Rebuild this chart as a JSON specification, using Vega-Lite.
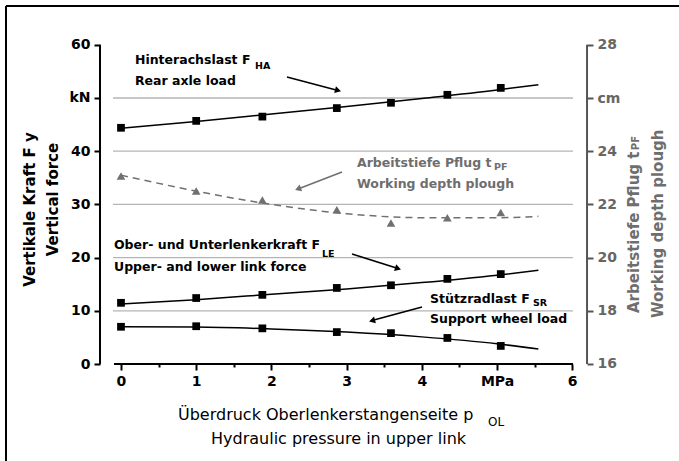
{
  "$schema": "https://vega.github.io/schema/vega-lite/v6.json",
  "width": 673,
  "height": 455,
  "padding": {"left": 6, "top": 6, "right": 0, "bottom": 0},
  "autosize": "none",
  "background": "white",
  "config": {"view": {"stroke": null}, "font": "DejaVu Sans"},
  "datasets": {
    "pts": [
      {"p": 0, "s": "rear", "v": 44.4}, {"p": 1, "s": "rear", "v": 45.7}, {"p": 1.88, "s": "rear", "v": 46.5}, {"p": 2.87, "s": "rear", "v": 48.1}, {"p": 3.59, "s": "rear", "v": 49.1}, {"p": 4.34, "s": "rear", "v": 50.6}, {"p": 5.05, "s": "rear", "v": 51.9},
      {"p": 0, "s": "link", "v": 11.5}, {"p": 1, "s": "link", "v": 12.4}, {"p": 1.88, "s": "link", "v": 13.0}, {"p": 2.87, "s": "link", "v": 14.3}, {"p": 3.59, "s": "link", "v": 14.8}, {"p": 4.34, "s": "link", "v": 16.0}, {"p": 5.05, "s": "link", "v": 16.9},
      {"p": 0, "s": "support", "v": 7.0}, {"p": 1, "s": "support", "v": 7.1}, {"p": 1.88, "s": "support", "v": 6.7}, {"p": 2.87, "s": "support", "v": 6.0}, {"p": 3.59, "s": "support", "v": 5.8}, {"p": 4.34, "s": "support", "v": 4.9}, {"p": 5.05, "s": "support", "v": 3.4},
      {"p": 0, "s": "depth", "v": 23.07}, {"p": 1, "s": "depth", "v": 22.5}, {"p": 1.88, "s": "depth", "v": 22.17}, {"p": 2.87, "s": "depth", "v": 21.8}, {"p": 3.59, "s": "depth", "v": 21.3}, {"p": 4.34, "s": "depth", "v": 21.5}, {"p": 5.05, "s": "depth", "v": 21.7}
    ],
    "fits": [
      {"p": 0, "s": "rear", "v": 44.3}, {"p": 1, "s": "rear", "v": 45.6}, {"p": 2, "s": "rear", "v": 47.0}, {"p": 3, "s": "rear", "v": 48.4}, {"p": 4, "s": "rear", "v": 49.9}, {"p": 5, "s": "rear", "v": 51.5}, {"p": 5.55, "s": "rear", "v": 52.5},
      {"p": 0, "s": "link", "v": 11.3}, {"p": 1, "s": "link", "v": 12.1}, {"p": 2, "s": "link", "v": 13.1}, {"p": 3, "s": "link", "v": 14.1}, {"p": 4, "s": "link", "v": 15.3}, {"p": 5, "s": "link", "v": 16.7}, {"p": 5.55, "s": "link", "v": 17.6},
      {"p": 0, "s": "support", "v": 7.0}, {"p": 1, "s": "support", "v": 6.95}, {"p": 2, "s": "support", "v": 6.6}, {"p": 3, "s": "support", "v": 6.0}, {"p": 4, "s": "support", "v": 5.1}, {"p": 5, "s": "support", "v": 3.8}, {"p": 5.55, "s": "support", "v": 2.8},
      {"p": 0, "s": "depth", "v": 23.1}, {"p": 1, "s": "depth", "v": 22.5}, {"p": 2, "s": "depth", "v": 22.0}, {"p": 3, "s": "depth", "v": 21.65}, {"p": 4, "s": "depth", "v": 21.5}, {"p": 5, "s": "depth", "v": 21.5}, {"p": 5.55, "s": "depth", "v": 21.55}
    ],
    "notes": [
      {"x": 0.186, "y": 57.14, "text": "Hinterachslast F", "about": "rear", "role": "ann"},
      {"x": 1.782, "y": 56.02, "text": "HA", "about": "rear", "role": "annsub"},
      {"x": 0.186, "y": 53.1, "text": "Rear axle load", "about": "rear", "role": "ann"},
      {"x": 3.138, "y": 37.73, "text": "Arbeitstiefe Pflug t", "about": "depth", "role": "ann"},
      {"x": 4.96, "y": 37.09, "text": "PF", "about": "depth", "role": "annsub"},
      {"x": 3.138, "y": 33.83, "text": "Working depth plough", "about": "depth", "role": "ann"},
      {"x": -0.093, "y": 22.37, "text": "Ober- und Unterlenkerkraft F", "about": "link", "role": "ann"},
      {"x": 2.673, "y": 20.73, "text": "LE", "about": "link", "role": "annsub"},
      {"x": -0.093, "y": 18.29, "text": "Upper- and lower link force", "about": "link", "role": "ann"},
      {"x": 4.109, "y": 12.27, "text": "Stützradlast F", "about": "support", "role": "ann"},
      {"x": 5.479, "y": 11.41, "text": "SR", "about": "support", "role": "annsub"},
      {"x": 4.109, "y": 8.42, "text": "Support wheel load", "about": "support", "role": "ann"},
      {"x": 0.758, "y": -9.59, "text": "Überdruck Oberlenkerstangenseite p", "about": "x", "role": "xt"},
      {"x": 4.88, "y": -10.9, "text": "OL", "about": "x", "role": "xtsub"},
      {"x": 1.197, "y": -14.1, "text": "Hydraulic pressure in upper link", "about": "x", "role": "xt"},
      {"x": -1.21, "y": 29.04, "text": "Vertikale Kraft F y", "about": "y", "role": "lt"},
      {"x": -0.904, "y": 30.92, "text": "Vertical force", "about": "y", "role": "lt"},
      {"x": 6.822, "y": 9.59, "text": "Arbeitstiefe Pflug t", "about": "depth", "role": "rt"},
      {"x": 6.848, "y": 40.2, "text": "PF", "about": "depth", "role": "rtsub"},
      {"x": 7.141, "y": 8.65, "text": "Working depth plough", "about": "depth", "role": "rt"}
    ],
    "arrows": [
      {"about": "rear", "x": 2.207, "y": 53.95, "x2": 2.886, "y2": 51.41},
      {"about": "depth", "x": 2.939, "y": 36.09, "x2": 2.354, "y2": 32.89},
      {"about": "link", "x": 3.072, "y": 20.68, "x2": 3.684, "y2": 17.95},
      {"about": "support", "x": 4.003, "y": 10.71, "x2": 3.338, "y2": 8.16}
    ]
  },
  "layer": [
    {
      "layer": [
        {
          "data": {"values": [{"g": 10}, {"g": 20}, {"g": 30}, {"g": 40}, {"g": 50}]},
          "mark": {"type": "rule", "color": "#b4b4b4", "strokeWidth": 1.3},
          "encoding": {
            "x": {"datum": -0.106, "type": "quantitative", "scale": {"domain": [-1.529, 7.42], "nice": false, "zero": false}},
            "x2": {"datum": 6.011},
            "y": {"field": "g", "type": "quantitative", "scale": {"domain": [-18.23, 67.29], "nice": false, "zero": false}}
          }
        },
        {
          "data": {"values": [{}]},
          "mark": {"type": "rule", "color": "black", "strokeWidth": 2},
          "encoding": {
            "x": {"datum": -0.279, "type": "quantitative"},
            "y": {"datum": 0, "type": "quantitative"},
            "y2": {"datum": 60}
          }
        },
        {
          "data": {"values": [{}]},
          "mark": {"type": "rule", "color": "#555555", "strokeWidth": 2},
          "encoding": {
            "x": {"datum": 6.197, "type": "quantitative"},
            "y": {"datum": 0, "type": "quantitative"},
            "y2": {"datum": 60}
          }
        },
        {
          "data": {"values": [{}]},
          "mark": {"type": "rule", "color": "black", "strokeWidth": 2.2},
          "encoding": {
            "x": {"datum": -0.093, "type": "quantitative"},
            "x2": {"datum": 6.011},
            "y": {"datum": 0, "type": "quantitative"}
          }
        },
        {
          "data": {"values": [{}]},
          "mark": {"type": "rule", "color": "black", "strokeWidth": 2},
          "encoding": {
            "x": {"datum": -1.529, "type": "quantitative"},
            "y": {"datum": -18.23, "type": "quantitative"},
            "y2": {"datum": 67.29}
          }
        },
        {
          "data": {"values": [{}]},
          "mark": {"type": "rule", "color": "black", "strokeWidth": 2},
          "encoding": {
            "x": {"datum": -1.529, "type": "quantitative"},
            "x2": {"datum": 7.42},
            "y": {"datum": 67.29, "type": "quantitative"}
          }
        },
        {
          "data": {"name": "fits"},
          "transform": [{"filter": "datum.s !== 'depth'"}],
          "mark": {"type": "line", "color": "black", "strokeWidth": 1.5, "interpolate": "monotone"},
          "encoding": {
            "x": {"field": "p", "type": "quantitative"},
            "y": {"field": "v", "type": "quantitative"},
            "detail": {"field": "s"}
          }
        },
        {
          "data": {"name": "pts"},
          "transform": [{"filter": "datum.s !== 'depth'"}],
          "mark": {"type": "point", "shape": "square", "filled": true, "color": "black", "size": 60, "opacity": 1},
          "encoding": {
            "x": {
              "field": "p", "type": "quantitative",
              "axis": {
                "orient": "bottom", "offset": -97, "title": null, "domain": false, "grid": false,
                "values": [0, 0.5, 1, 1.5, 2, 2.5, 3, 3.5, 4, 4.5, 5, 5.5, 6],
                "tickColor": "black", "tickWidth": 2, "tickSize": 6,
                "tickDash": {"condition": {"test": "datum.value % 1 !== 0", "value": [3, 20]}, "value": []},
                "labelExpr": "datum.value === 5 ? 'MPa' : (datum.value % 1 === 0 ? format(datum.value, 'd') : '')",
                "labelFont": "DejaVu Sans", "labelFontWeight": "bold", "labelFontSize": 14, "labelColor": "black",
                "labelPadding": 4, "labelFlush": false, "labelOverlap": false
              }
            },
            "y": {
              "field": "v", "type": "quantitative",
              "axis": {
                "orient": "left", "offset": -94, "title": null, "domain": false, "grid": false,
                "values": [0, 5, 10, 15, 20, 25, 30, 35, 40, 45, 50, 55, 60],
                "tickColor": "black", "tickWidth": 2, "tickSize": 6,
                "tickDash": {"condition": {"test": "datum.value % 10 !== 0", "value": [3, 20]}, "value": []},
                "labelExpr": "datum.value === 50 ? 'kN' : (datum.value % 10 === 0 ? format(datum.value, 'd') : '')",
                "labelFont": "DejaVu Sans", "labelFontWeight": "bold", "labelFontSize": 14, "labelColor": "black",
                "labelPadding": 4, "labelFlush": false, "labelOverlap": false
              }
            }
          }
        },
        {
          "data": {"name": "arrows"},
          "mark": {"type": "rule", "strokeWidth": 1.6},
          "encoding": {
            "x": {"field": "x", "type": "quantitative"},
            "y": {"field": "y", "type": "quantitative"},
            "x2": {"field": "x2"},
            "y2": {"field": "y2"},
            "color": {"condition": {"test": "datum.about === 'depth'", "value": "#707070"}, "value": "black"}
          }
        },
        {
          "data": {"name": "arrows"},
          "transform": [{"filter": "datum.about === 'rear'"}],
          "mark": {"type": "point", "shape": "triangle-right", "filled": true, "color": "black", "size": 50, "angle": 15, "opacity": 1},
          "encoding": {
            "x": {"field": "x2", "type": "quantitative"},
            "y": {"field": "y2", "type": "quantitative"}
          }
        },
        {
          "data": {"name": "arrows"},
          "transform": [{"filter": "datum.about === 'depth'"}],
          "mark": {"type": "point", "shape": "triangle-right", "filled": true, "color": "#707070", "size": 50, "angle": 159, "opacity": 1},
          "encoding": {
            "x": {"field": "x2", "type": "quantitative"},
            "y": {"field": "y2", "type": "quantitative"}
          }
        },
        {
          "data": {"name": "arrows"},
          "transform": [{"filter": "datum.about === 'link'"}],
          "mark": {"type": "point", "shape": "triangle-right", "filled": true, "color": "black", "size": 50, "angle": 17, "opacity": 1},
          "encoding": {
            "x": {"field": "x2", "type": "quantitative"},
            "y": {"field": "y2", "type": "quantitative"}
          }
        },
        {
          "data": {"name": "arrows"},
          "transform": [{"filter": "datum.about === 'support'"}],
          "mark": {"type": "point", "shape": "triangle-right", "filled": true, "color": "black", "size": 50, "angle": 165, "opacity": 1},
          "encoding": {
            "x": {"field": "x2", "type": "quantitative"},
            "y": {"field": "y2", "type": "quantitative"}
          }
        },
        {
          "data": {"name": "notes"},
          "transform": [{"filter": "datum.role === 'ann'"}],
          "mark": {"type": "text", "align": "left", "baseline": "middle", "font": "DejaVu Sans", "fontWeight": "bold", "fontSize": 12.5},
          "encoding": {
            "x": {"field": "x", "type": "quantitative"},
            "y": {"field": "y", "type": "quantitative"},
            "text": {"field": "text"},
            "color": {"condition": {"test": "datum.about === 'depth'", "value": "#6e6e6e"}, "value": "black"}
          }
        },
        {
          "data": {"name": "notes"},
          "transform": [{"filter": "datum.role === 'annsub'"}],
          "mark": {"type": "text", "align": "left", "baseline": "middle", "font": "DejaVu Sans", "fontWeight": "bold", "fontSize": 9.5},
          "encoding": {
            "x": {"field": "x", "type": "quantitative"},
            "y": {"field": "y", "type": "quantitative"},
            "text": {"field": "text"},
            "color": {"condition": {"test": "datum.about === 'depth'", "value": "#6e6e6e"}, "value": "black"}
          }
        },
        {
          "data": {"name": "notes"},
          "transform": [{"filter": "datum.role === 'xt'"}],
          "mark": {"type": "text", "align": "left", "baseline": "middle", "font": "DejaVu Sans", "fontSize": 16, "color": "black"},
          "encoding": {
            "x": {"field": "x", "type": "quantitative"},
            "y": {"field": "y", "type": "quantitative"},
            "text": {"field": "text"}
          }
        },
        {
          "data": {"name": "notes"},
          "transform": [{"filter": "datum.role === 'xtsub'"}],
          "mark": {"type": "text", "align": "left", "baseline": "middle", "font": "DejaVu Sans", "fontSize": 12, "color": "black"},
          "encoding": {
            "x": {"field": "x", "type": "quantitative"},
            "y": {"field": "y", "type": "quantitative"},
            "text": {"field": "text"}
          }
        },
        {
          "data": {"name": "notes"},
          "transform": [{"filter": "datum.role === 'lt'"}],
          "mark": {"type": "text", "align": "center", "baseline": "middle", "angle": 270, "font": "DejaVu Sans", "fontWeight": "bold", "fontSize": 15, "color": "black"},
          "encoding": {
            "x": {"field": "x", "type": "quantitative"},
            "y": {"field": "y", "type": "quantitative"},
            "text": {"field": "text"}
          }
        },
        {
          "data": {"name": "notes"},
          "transform": [{"filter": "datum.role === 'rt'"}],
          "mark": {"type": "text", "align": "left", "baseline": "middle", "angle": 270, "font": "DejaVu Sans", "fontWeight": "bold", "fontSize": 15, "color": "#6e6e6e"},
          "encoding": {
            "x": {"field": "x", "type": "quantitative"},
            "y": {"field": "y", "type": "quantitative"},
            "text": {"field": "text"}
          }
        },
        {
          "data": {"name": "notes"},
          "transform": [{"filter": "datum.role === 'rtsub'"}],
          "mark": {"type": "text", "align": "left", "baseline": "middle", "angle": 270, "font": "DejaVu Sans", "fontWeight": "bold", "fontSize": 10, "color": "#6e6e6e"},
          "encoding": {
            "x": {"field": "x", "type": "quantitative"},
            "y": {"field": "y", "type": "quantitative"},
            "text": {"field": "text"}
          }
        }
      ]
    },
    {
      "layer": [
        {
          "data": {"name": "fits"},
          "transform": [{"filter": "datum.s === 'depth'"}],
          "mark": {"type": "line", "color": "#707070", "strokeWidth": 1.5, "strokeDash": [7, 5], "interpolate": "monotone"},
          "encoding": {
            "x": {"field": "p", "type": "quantitative"},
            "y": {"field": "v", "type": "quantitative", "scale": {"domain": [12.353, 29.459], "nice": false, "zero": false}}
          }
        },
        {
          "data": {"name": "pts"},
          "transform": [{"filter": "datum.s === 'depth'"}],
          "mark": {"type": "point", "shape": "triangle-up", "filled": true, "color": "#707070", "size": 75, "opacity": 1},
          "encoding": {
            "x": {"field": "p", "type": "quantitative"},
            "y": {
              "field": "v", "type": "quantitative",
              "axis": {
                "orient": "right", "offset": -92, "title": null, "domain": false, "grid": false,
                "values": [16, 17, 18, 19, 20, 21, 22, 23, 24, 25, 26, 27, 28],
                "tickColor": "#555555", "tickWidth": 2, "tickSize": 6,
                "tickDash": {"condition": {"test": "datum.value % 2 !== 0", "value": [3, 20]}, "value": []},
                "labelExpr": "datum.value === 26 ? 'cm' : (datum.value % 2 === 0 ? format(datum.value, 'd') : '')",
                "labelFont": "DejaVu Sans", "labelFontWeight": "bold", "labelFontSize": 14, "labelColor": "#666666",
                "labelPadding": 4, "labelFlush": false, "labelOverlap": false
              }
            }
          }
        }
      ]
    }
  ],
  "resolve": {"scale": {"y": "independent"}}
}
